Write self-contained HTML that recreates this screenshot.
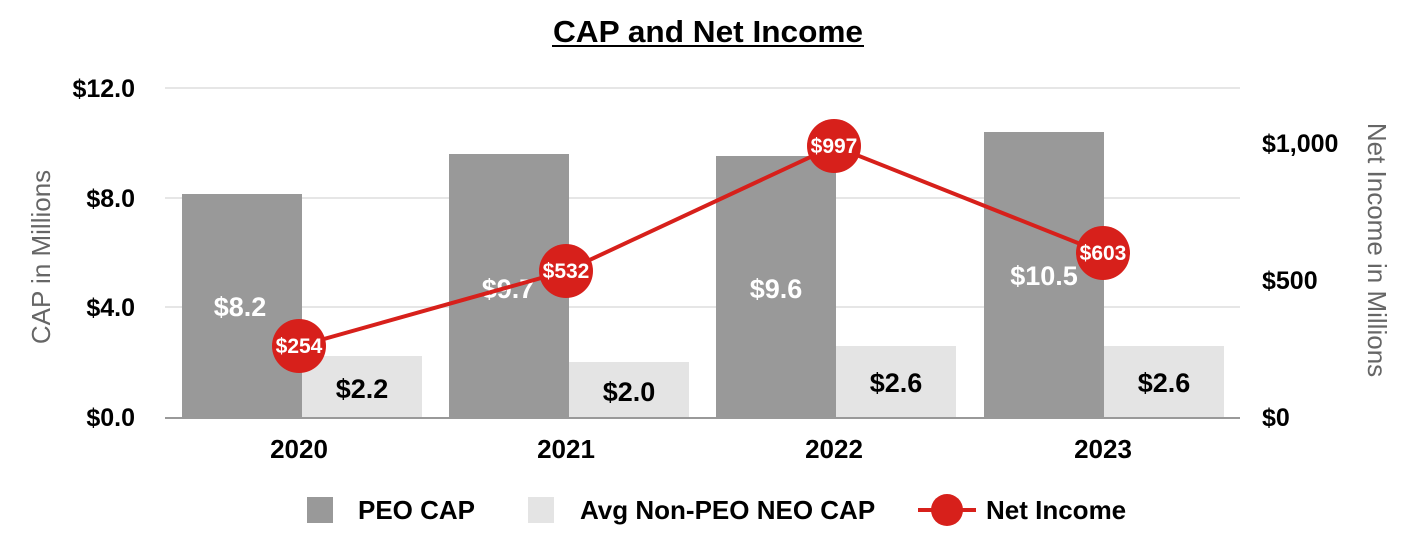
<!DOCTYPE html>
<html><head><style>
html,body{margin:0;padding:0;background:#fff;}
svg{display:block;font-family:"Liberation Sans",Arial,sans-serif;}
</style></head><body>
<svg width="1420" height="550" viewBox="0 0 1420 550">
<text x="708" y="42" text-anchor="middle" font-size="30.5" font-weight="bold" fill="#000" textLength="310" lengthAdjust="spacingAndGlyphs">CAP and Net Income</text>
<line x1="552" y1="46" x2="864" y2="46" stroke="#000" stroke-width="2"/>
<g stroke="#e6e6e6" stroke-width="2">
<line x1="165" y1="88" x2="1240" y2="88"/>
<line x1="165" y1="198" x2="1240" y2="198"/>
<line x1="165" y1="307" x2="1240" y2="307"/>
</g>
<g fill="#999999">
<rect x="182" y="194" width="120" height="224"/>
<rect x="449" y="154" width="120" height="264"/>
<rect x="716" y="156" width="120" height="262"/>
<rect x="984" y="132" width="120" height="286"/>
</g>
<g fill="#e4e4e4">
<rect x="302" y="356" width="120" height="62"/>
<rect x="569" y="362" width="120" height="56"/>
<rect x="836" y="346" width="120" height="72"/>
<rect x="1104" y="346" width="120" height="72"/>
</g>
<line x1="165" y1="418" x2="1240" y2="418" stroke="#999" stroke-width="2"/>
<g font-size="27" font-weight="bold" fill="#fff" text-anchor="middle">
<text x="240" y="316">$8.2</text>
<text x="508" y="298">$9.7</text>
<text x="776" y="298">$9.6</text>
<text x="1044" y="285">$10.5</text>
</g>
<g font-size="27" font-weight="bold" fill="#000" text-anchor="middle">
<text x="362" y="398">$2.2</text>
<text x="629" y="401">$2.0</text>
<text x="896" y="392">$2.6</text>
<text x="1164" y="392">$2.6</text>
</g>
<polyline points="299,346 566,271 834,146 1103,253" fill="none" stroke="#d7201b" stroke-width="4"/>
<g fill="#d7201b">
<circle cx="299" cy="346" r="27"/>
<circle cx="566" cy="271" r="27"/>
<circle cx="834" cy="146" r="27"/>
<circle cx="1103" cy="253" r="27"/>
</g>
<g font-size="21" font-weight="bold" fill="#fff" text-anchor="middle">
<text x="299" y="353">$254</text>
<text x="566" y="278">$532</text>
<text x="834" y="153">$997</text>
<text x="1103" y="260">$603</text>
</g>
<g font-size="25" font-weight="bold" fill="#000" text-anchor="end">
<text x="135" y="97">$12.0</text>
<text x="135" y="207">$8.0</text>
<text x="135" y="316">$4.0</text>
<text x="135" y="426">$0.0</text>
</g>
<g font-size="25" font-weight="bold" fill="#000" text-anchor="start">
<text x="1262" y="152">$1,000</text>
<text x="1262" y="289">$500</text>
<text x="1262" y="426">$0</text>
</g>
<g font-size="26" font-weight="bold" fill="#000" text-anchor="middle">
<text x="299" y="458">2020</text>
<text x="566" y="458">2021</text>
<text x="834" y="458">2022</text>
<text x="1103" y="458">2023</text>
</g>
<text transform="translate(50,257) rotate(-90)" font-size="26" fill="#666" text-anchor="middle">CAP in Millions</text>
<text transform="translate(1368,250) rotate(90)" font-size="26" fill="#666" text-anchor="middle">Net Income in Millions</text>
<rect x="307" y="497" width="26" height="26" fill="#999999"/>
<text x="358" y="519" font-size="26" font-weight="bold">PEO CAP</text>
<rect x="528" y="497" width="26" height="26" fill="#e4e4e4"/>
<text x="580" y="519" font-size="26" font-weight="bold">Avg Non-PEO NEO CAP</text>
<line x1="918" y1="510" x2="976" y2="510" stroke="#d7201b" stroke-width="4"/>
<circle cx="947" cy="510" r="16" fill="#d7201b"/>
<text x="986" y="519" font-size="26" font-weight="bold">Net Income</text>
</svg>
</body></html>
